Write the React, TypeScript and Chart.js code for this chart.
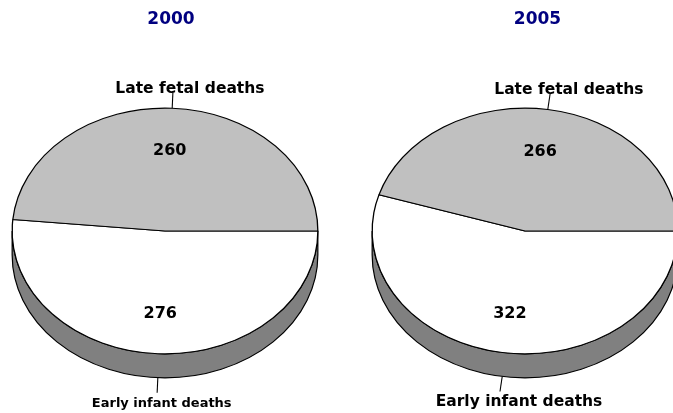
import React, { useEffect, useRef } from "react";
import { Chart, registerables } from "chart.js";

Chart.register(...registerables);

// ---- data ----
const years = ["2000", "2005"];
const categories = ["Early infant deaths", "Late fetal deaths"];
const earlyInfantDeaths = [276, 322];
const lateFetalDeaths = [260, 266];

// ---- styles ----
const sliceColors = ["#FFFFFF", "#C0C0C0"];
const SIDE_COLOR = "#808080";
const TITLE_COLOR = "#000080";
const FONT = '"DejaVu Sans", Verdana, sans-serif';
const TILT = 123 / 153;
const DEPTH = 24;
const CANVAS_W = 360;
const CANVAS_H = 413;

type Panel = {
  left: number;
  padding: { left: number; right: number; top: number; bottom: number };
  titleDx: number;
  catFont: number[]; // [early, late]
  catDx: number[]; // label centre offset from leader end
};

const panels: Panel[] = [
  {
    left: 0,
    padding: { left: 11.5, right: 41.5, top: 77.5, bottom: 28.5 },
    titleDx: 6,
    catFont: [13, 15.5],
    catDx: [4.6, 17],
  },
  {
    left: 340,
    padding: { left: 31.5, right: 21.5, top: 77.5, bottom: 28.5 },
    titleDx: 12.5,
    catFont: [15.5, 15.5],
    catDx: [19, 18.7],
  },
];

function makePlugin(idx: number, panel: Panel) {
  return {
    id: "pie3d_" + idx,
    beforeDatasetsDraw(chart: any) {
      const arc = chart.getDatasetMeta(0).data[0];
      const { x, y, outerRadius } = arc.getProps(["x", "y", "outerRadius"], true);
      const r = outerRadius;
      const ry = r * TILT;
      const ctx = chart.ctx;
      ctx.save();
      ctx.beginPath();
      ctx.moveTo(x + r, y);
      ctx.lineTo(x + r, y + DEPTH);
      ctx.ellipse(x, y + DEPTH, r, ry, 0, 0, Math.PI, false);
      ctx.lineTo(x - r, y);
      ctx.ellipse(x, y, r, ry, 0, Math.PI, 0, true);
      ctx.closePath();
      ctx.fillStyle = SIDE_COLOR;
      ctx.fill();
      ctx.strokeStyle = "#000";
      ctx.lineWidth = 1.2;
      ctx.stroke();
      ctx.restore();
      // squash the pie into an ellipse
      ctx.save();
      ctx.translate(0, y);
      ctx.scale(1, TILT);
      ctx.translate(0, -y);
    },
    afterDatasetsDraw(chart: any) {
      const ctx = chart.ctx;
      ctx.restore();
      const arcs = chart.getDatasetMeta(0).data;
      const values = chart.data.datasets[0].data;
      const labels = chart.data.labels;
      ctx.save();
      // title
      const first = arcs[0].getProps(["x", "y", "outerRadius"], true);
      ctx.fillStyle = TITLE_COLOR;
      ctx.font = `bold 17px ${FONT}`;
      ctx.textAlign = "center";
      ctx.textBaseline = "alphabetic";
      ctx.fillText(years[idx], first.x + panel.titleDx, 24);

      arcs.forEach((el: any, i: number) => {
        const { x, y, startAngle, endAngle, outerRadius } = el.getProps(
          ["x", "y", "startAngle", "endAngle", "outerRadius"],
          true
        );
        const mid = (startAngle + endAngle) / 2;
        const c = Math.cos(mid);
        const s = Math.sin(mid);
        const ry = outerRadius * TILT;
        // value label
        const vf = 0.665;
        ctx.fillStyle = "#000";
        ctx.font = `bold 16px ${FONT}`;
        ctx.textAlign = "center";
        ctx.textBaseline = "alphabetic";
        ctx.fillText(String(values[i]), x + c * outerRadius * vf, y + s * ry * vf + 5.8);
        // leader + category label
        const below = s > 0;
        const ex = x + c * outerRadius;
        const ey = y + s * ry + (below ? DEPTH : 0);
        const len = below ? 15 : 16;
        const lx = ex + c * len;
        const ly = ey + (below ? len : -len);
        ctx.beginPath();
        ctx.moveTo(ex, ey);
        ctx.lineTo(lx, ly);
        ctx.strokeStyle = "#000";
        ctx.lineWidth = 1.1;
        ctx.stroke();
        ctx.font = `bold ${panel.catFont[i]}px ${FONT}`;
        ctx.fillText(labels[i], lx + panel.catDx[i], below ? ly + 14 : ly + 0.5);
      });
      ctx.restore();
    },
  };
}

function PiePanel({ idx }: { idx: number }) {
  const ref = useRef<HTMLCanvasElement | null>(null);
  useEffect(() => {
    const panel = panels[idx];
    const chart = new Chart(ref.current as HTMLCanvasElement, {
      type: "pie",
      data: {
        labels: categories,
        datasets: [
          {
            data: [earlyInfantDeaths[idx], lateFetalDeaths[idx]],
            backgroundColor: sliceColors,
            borderColor: "#000000",
            borderWidth: 1.3,
            clip: false as any,
          },
        ],
      },
      options: {
        responsive: false,
        animation: false,
        events: [],
        rotation: 90,
        layout: { padding: panel.padding },
        plugins: {
          legend: { display: false },
          tooltip: { enabled: false },
          title: { display: false },
        },
      },
      plugins: [makePlugin(idx, panel)],
    });
    return () => chart.destroy();
  }, [idx]);
  return (
    <canvas
      ref={ref}
      width={CANVAS_W}
      height={CANVAS_H}
      style={{
        position: "absolute",
        left: panels[idx].left,
        top: 0,
        width: CANVAS_W,
        height: CANVAS_H,
      }}
    />
  );
}

export default function App() {
  return (
    <div
      style={{
        position: "fixed",
        left: 0,
        top: 0,
        width: 673,
        height: 413,
        overflow: "hidden",
        background: "#fff",
      }}
    >
      {years.map((_, i) => (
        <PiePanel key={i} idx={i} />
      ))}
    </div>
  );
}
